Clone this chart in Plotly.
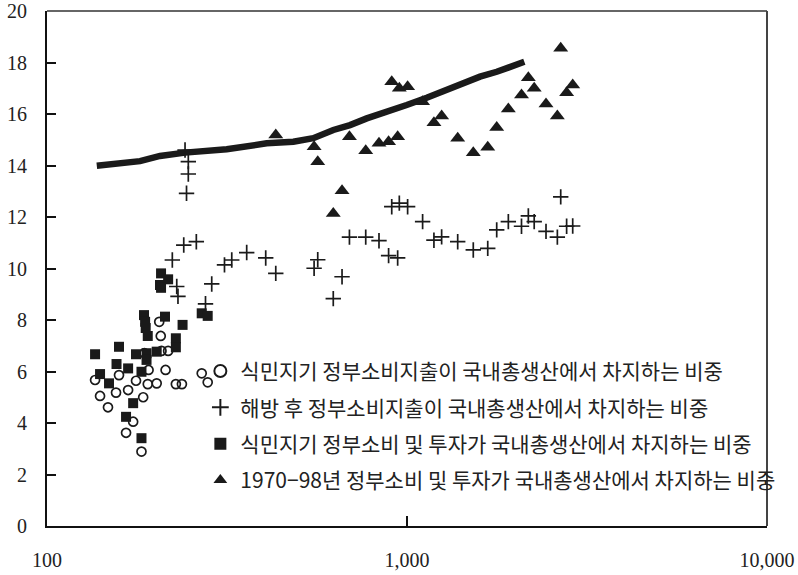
import plotly.graph_objects as go

# ---- data (GDP per capita on log x-axis, share of GDP in % on y-axis) ----
# Colonial period: government consumption expenditure share (open circles)
col_cons_x = [205, 207, 208, 217, 186.5, 191.5, 213.5, 136, 158.5, 176.7, 190.5, 201.7,
              228, 237, 269, 279.5, 140.4, 155.5, 168, 185, 147.7, 173.5, 165.8, 183]
col_cons_y = [7.93, 7.38, 6.80, 6.80, 6.71, 6.06, 6.06, 5.67, 5.86, 5.64, 5.51, 5.54,
              5.51, 5.51, 5.93, 5.58, 5.05, 5.18, 5.28, 5.00, 4.61, 4.05, 3.62, 2.89]

# Colonial period: government consumption + investment share (filled squares)
col_inv_x = [207.4, 217, 206, 207.4, 269, 279.5, 186, 187.3, 188, 190.5, 212.7, 238,
             228, 228, 158.5, 136, 176.7, 189, 189, 201.7, 156, 168, 183, 140.4,
             148.7, 173.5, 165.8, 183]
col_inv_y = [9.81, 9.58, 9.36, 9.25, 8.26, 8.16, 8.19, 7.93, 7.69, 7.38, 8.13, 7.81,
             7.29, 6.94, 6.96, 6.67, 6.67, 6.71, 6.45, 6.77, 6.29, 6.12, 5.99, 5.90,
             5.54, 4.77, 4.24, 3.41]

# Post-liberation, before 1970: government consumption expenditure share (plus)
post_early_x = [222.9, 239.8, 259.9, 229.3, 231.1, 286.8, 275.6, 241.8, 246.9, 246.9,
                244.1, 311.2, 326.0, 358.7, 405.1]
post_early_y = [10.33, 10.91, 11.04, 9.30, 8.92, 9.40, 8.63, 14.60, 14.15, 13.67,
                12.92, 10.14, 10.33, 10.62, 10.41]

# 1970-98 GDP per capita (shared by the plus and triangle series)
gdp_7098 = [432, 552, 565, 624, 660, 692, 768, 836, 889, 907, 942, 952, 1004, 1105,
            1188, 1248, 1383, 1528, 1676, 1775, 1912, 2080, 2173, 2256, 2433, 2616,
            2673, 2776, 2886]
# post-liberation government consumption share, 1970-98 (plus)
cons_7098 = [9.81, 10.01, 10.34, 8.83, 9.68, 11.22, 11.22, 11.08, 10.50, 12.40, 10.41,
             12.54, 12.40, 11.82, 11.10, 11.23, 11.04, 10.72, 10.78, 11.50, 11.82, 11.64,
             12.04, 11.82, 11.44, 11.22, 12.78, 11.64, 11.65]
# government consumption + investment share, 1970-98 (triangles)
inv_7098 = [15.18, 14.73, 14.15, 12.14, 13.02, 15.12, 14.57, 14.86, 14.92, 17.25, 15.12,
            17.00, 17.06, 16.48, 15.66, 15.92, 15.06, 14.50, 14.71, 15.48, 16.19, 16.74,
            17.41, 17.00, 16.39, 15.92, 18.55, 16.83, 17.13]

# Reference (trend) line
trend_x = [137.5, 181.3, 206.0, 241.8, 315.6, 358.7, 407.6, 483.3, 549.1, 624.3, 694.5,
           773.0, 878.1, 998.1, 1134.5, 1289.6, 1433.7, 1595.3, 1775.5, 1973.6, 2118.0]
trend_y = [13.99, 14.17, 14.37, 14.50, 14.63, 14.76, 14.86, 14.92, 15.06, 15.38, 15.57,
           15.83, 16.12, 16.35, 16.63, 16.96, 17.20, 17.45, 17.64, 17.90, 18.03]

labels = [
    "식민지기 정부소비지출이 국내총생산에서 차지하는 비중",
    "해방 후 정부소비지출이 국내총생산에서 차지하는 비중",
    "식민지기 정부소비 및 투자가 국내총생산에서 차지하는 비중",
    "1970−98년 정부소비 및 투자가 국내총생산에서 차지하는 비중",
]
x_tickvals = [100, 1000, 10000]
x_ticktext = ["100", "1,000", "10,000"]
y_tickvals = list(range(0, 21, 2))

INK = "#1a1a1a"

fig = go.Figure()

fig.add_trace(go.Scatter(
    x=trend_x, y=trend_y, mode="lines", showlegend=False,
    line=dict(color=INK, width=6.5), hoverinfo="skip"))

fig.add_trace(go.Scatter(
    x=col_cons_x, y=col_cons_y, mode="markers", name=labels[0], legendgroup="a",
    marker=dict(symbol="circle-open", size=9, color=INK, line=dict(width=1.7, color=INK))))

fig.add_trace(go.Scatter(
    x=post_early_x + gdp_7098, y=post_early_y + cons_7098, mode="markers",
    name=labels[1], legendgroup="b",
    marker=dict(symbol="cross-thin-open", size=11, color=INK, line=dict(width=1.7, color=INK))))

fig.add_trace(go.Scatter(
    x=col_inv_x, y=col_inv_y, mode="markers", name=labels[2], legendgroup="c",
    marker=dict(symbol="square", size=10, color=INK, line=dict(width=0))))

fig.add_trace(go.Scatter(
    x=gdp_7098, y=inv_7098, mode="markers", name=labels[3], legendgroup="d",
    marker=dict(symbol="triangle-up", size=13, color=INK, line=dict(width=0))))

tick_font = dict(family="Liberation Serif", size=20, color="#222")

fig.update_layout(
    width=798, height=575,
    margin=dict(l=47, r=31, t=11, b=49, autoexpand=False),
    paper_bgcolor="white", plot_bgcolor="white",
    showlegend=True,
    legend=dict(
        x=0.213, y=0.34, xanchor="left", yanchor="top",
        bgcolor="rgba(0,0,0,0)", borderwidth=0,
        font=dict(family="Noto Sans CJK KR", size=21, color="#222"),
        tracegroupgap=6, traceorder="grouped", itemsizing="constant",
    ),
    xaxis=dict(
        type="log", range=[2, 4], tickvals=x_tickvals, ticktext=x_ticktext,
        ticks="inside", ticklen=10, tickwidth=1.5, tickcolor="#111",
        showline=True, linecolor="#111", linewidth=2, mirror=False, automargin=False,
        showgrid=False, zeroline=False, tickfont=tick_font, ticklabelstandoff=15,
    ),
    yaxis=dict(
        range=[0, 20], tickvals=y_tickvals,
        ticks="inside", ticklen=9, tickwidth=1.5, tickcolor="#111",
        showline=True, linecolor="#111", linewidth=2, mirror=False, automargin=False,
        showgrid=False, zeroline=False, tickfont=tick_font, ticklabelstandoff=14,
    ),
    shapes=[
        dict(type="line", xref="paper", yref="paper", x0=0, x1=1, y0=1, y1=1,
             line=dict(color="#666", width=2)),
        dict(type="line", xref="paper", yref="paper", x0=1, x1=1, y0=0, y1=1,
             line=dict(color="#444", width=2)),
    ],
)

fig.write_html("out.html")
